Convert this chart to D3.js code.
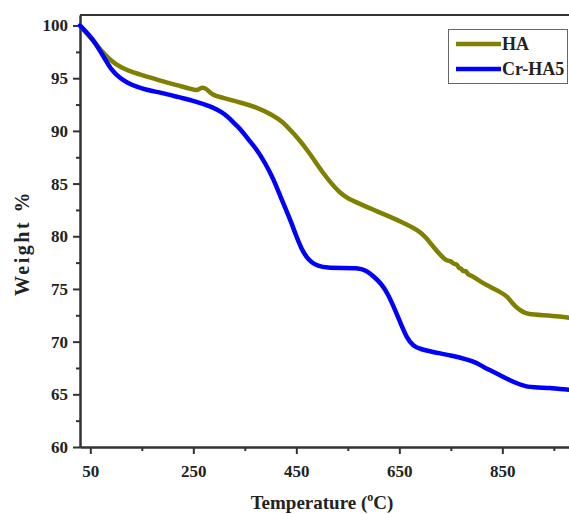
<!DOCTYPE html>
<head>
  <meta charset="utf-8">
  <script src="https://d3js.org/d3.v7.min.js"></script>
  <style>
    body { margin: 0; background: #fff; }
    svg { display: block; font-family: "Liberation Serif", "Times New Roman", serif; }
    .tick text { font-size: 17px; font-weight: bold; fill: #222; font-family: "Liberation Serif", "Times New Roman", serif; }
    .axis path, .axis line { stroke: #333; stroke-width: 2px; }
  </style>
</head>
<body>
  <div id="vis"></div>
  <script>

    // temperature (°C) and weight (%)
    var haTemp = [30, 40, 55, 70, 91, 110, 130, 157, 190, 221, 245, 258, 264, 272, 280, 287, 310, 341, 370, 405,
      425, 438, 455, 471, 488, 502, 520, 535, 550, 568, 600, 630, 666, 685, 700, 716, 730, 743, 750, 756,
      762, 766, 770, 774, 779, 784, 790, 807, 830, 846, 860, 870, 879, 890, 899, 930, 960, 990];
    var haWeight = [100, 99.4, 98.6, 97.7, 96.6, 96.0, 95.6, 95.2, 94.7, 94.3, 94.0, 93.8, 94.1, 94.1, 93.8, 93.4, 93.1, 92.7, 92.3, 91.5,
      90.8, 90.1, 89.2, 88.2, 87.0, 86.0, 84.9, 84.1, 83.6, 83.2, 82.5, 81.9, 81.1, 80.6, 80.0, 79.0, 78.2, 77.6, 77.7, 77.3,
      77.4, 76.9, 77.0, 76.6, 76.8, 76.3, 76.3, 75.7, 75.1, 74.7, 74.3, 73.6, 73.2, 72.8, 72.6, 72.5, 72.4, 72.2];

    var crTemp = [30, 40, 55, 70, 80, 91, 105, 124, 140, 157, 190, 221, 255, 285, 305, 318, 330, 341, 355, 374,
      390, 405, 419, 430, 438, 450, 460, 470, 480, 491, 510, 540, 568, 585, 600, 615, 627, 640, 652, 665,
      677, 690, 716, 750, 782, 800, 813, 830, 846, 870, 895, 920, 943, 960, 990];
    var crWeight = [100, 99.5, 98.7, 97.5, 96.7, 95.8, 95.1, 94.5, 94.2, 93.9, 93.6, 93.2, 92.8, 92.3, 91.8, 91.3, 90.7, 90.2, 89.3, 88.2,
      86.9, 85.5, 83.8, 82.5, 81.6, 80.0, 78.8, 78.0, 77.5, 77.2, 77.0, 77.0, 77.0, 76.8, 76.2, 75.5, 74.6, 73.2, 71.8, 70.3,
      69.6, 69.3, 69.0, 68.7, 68.3, 68.0, 67.6, 67.2, 66.8, 66.2, 65.7, 65.65, 65.6, 65.5, 65.4];

    var seriesNames = ["HA", "Cr-HA5"];
    var seriesColors = ["#808000", "#0000ff"];
    var xTicks = [50, 250, 450, 650, 850];
    var yTicks = [60, 65, 70, 75, 80, 85, 90, 95, 100];

    var width = 569, height = 514;
    var serif = "'Liberation Serif', 'Times New Roman', serif";

    var svg = d3.select("#vis")
      .append("svg")
      .attr("width", width)
      .attr("height", height);

    var x = d3.scaleLinear()
      .domain([30, 1000])
      .range([80, 579.6]);

    var y = d3.scaleLinear()
      .domain([60, 101])
      .range([447, 15]);

    ////////// frame //////////

    svg.append("line")
      .attr("x1", x(30)).attr("x2", x(1000))
      .attr("y1", y(101)).attr("y2", y(101))
      .attr("stroke", "#333").attr("stroke-width", 2);
    svg.append("line")
      .attr("x1", x(1000)).attr("x2", x(1000))
      .attr("y1", y(101)).attr("y2", y(60))
      .attr("stroke", "#333").attr("stroke-width", 2);

    ////////// axes //////////

    var minorX = d3.range(150, 1000, 200);
    var minorY = d3.range(62.5, 101, 5);

    var xAxis = svg.append("g")
      .attr("class", "axis")
      .attr("transform", "translate(0," + y(60) + ")")
      .call(d3.axisBottom(x).tickValues(xTicks).tickSize(7).tickPadding(8).tickSizeOuter(0));
    xAxis.attr("font-family", serif);
    xAxis.selectAll(".tick text").attr("dy", "0.9em");

    svg.append("g")
      .attr("class", "axis")
      .attr("transform", "translate(0," + y(60) + ")")
      .call(d3.axisBottom(x).tickValues(minorX).tickSize(4).tickFormat("").tickSizeOuter(0));

    svg.append("g")
      .attr("class", "axis")
      .attr("transform", "translate(" + x(30) + ",0)")
      .call(d3.axisLeft(y).tickValues(yTicks).tickSize(7).tickPadding(5).tickSizeOuter(0))
      .attr("font-family", serif);

    svg.append("g")
      .attr("class", "axis")
      .attr("transform", "translate(" + x(30) + ",0)")
      .call(d3.axisLeft(y).tickValues(minorY).tickSize(4).tickFormat("").tickSizeOuter(0));

    ////////// lines //////////

    var line = d3.line()
      .x(function (d) { return x(d[0]); })
      .y(function (d) { return y(d[1]); })
      .curve(d3.curveBasis);

    var series = [
      d3.zip(haTemp, haWeight),
      d3.zip(crTemp, crWeight)
    ];

    svg.append("g")
      .selectAll("path")
      .data(series)
      .enter()
      .append("path")
      .attr("d", line)
      .attr("fill", "none")
      .attr("stroke", function (d, i) { return seriesColors[i]; })
      .attr("stroke-width", 4.5)
      .attr("stroke-linejoin", "round")
      .attr("stroke-linecap", "round");

    ////////// labels //////////

    var xLabel = svg.append("text")
      .attr("x", 322)
      .attr("y", 509)
      .attr("text-anchor", "middle")
      .attr("font-size", 19)
      .attr("font-weight", "bold")
      .attr("fill", "#222");
    xLabel.append("tspan").text("Temperature (");
    xLabel.append("tspan").attr("font-size", 12).attr("dy", -8).text("o");
    xLabel.append("tspan").attr("dy", 8).text("C)");

    svg.append("text")
      .attr("transform", "translate(29,243) rotate(-90)")
      .attr("text-anchor", "middle")
      .attr("font-size", 20)
      .attr("font-weight", "bold")
      .attr("letter-spacing", 2.5)
      .attr("fill", "#222")
      .text("Weight %");

    ////////// legend //////////

    var legend = svg.append("g");
    legend.append("rect")
      .attr("x", 448.5).attr("y", 29.5)
      .attr("width", 119).attr("height", 54)
      .attr("fill", "#fff")
      .attr("stroke", "#666")
      .attr("stroke-width", 1);

    var items = legend.selectAll(".item")
      .data(seriesNames)
      .enter()
      .append("g")
      .attr("transform", function (d, i) { return "translate(456," + (44 + i * 25) + ")"; });

    items.append("line")
      .attr("x1", 0).attr("x2", 45)
      .attr("stroke", function (d, i) { return seriesColors[i]; })
      .attr("stroke-width", 4.5);

    items.append("text")
      .attr("x", 46)
      .attr("dy", "0.35em")
      .attr("font-size", 18)
      .attr("font-weight", "bold")
      .attr("fill", "#222")
      .text(function (d) { return d; });

  </script>
</body>
